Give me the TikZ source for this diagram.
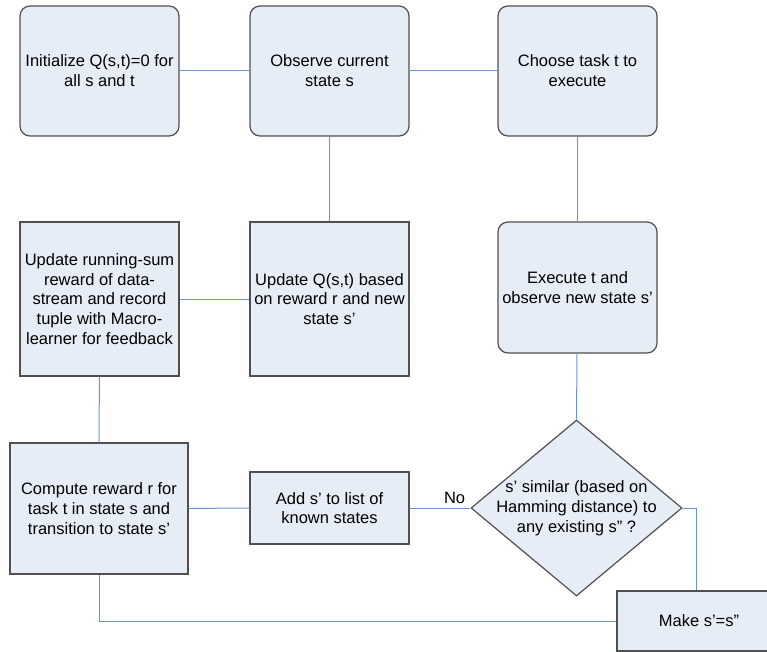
\documentclass[tikz,border=0pt]{standalone}
\usepackage{fontspec}
\setmainfont{Liberation Sans}
\usepackage{tikz}
\usetikzlibrary{shapes.geometric}
\usepackage{xcolor}
\definecolor{boxfill}{RGB}{231,237,246}
\definecolor{boxline}{RGB}{80,80,80}
\definecolor{linkline}{RGB}{105,147,215}

\begin{document}
\begin{tikzpicture}[x=1pt,y=-1pt,
	every node/.style={font=\fontsize{16.5}{19.8}\selectfont,align=center},
	stepround/.style={rectangle,rounded corners=10pt,draw=boxline,line width=1.2pt,fill=boxfill,inner sep=1pt},
	stepsquare/.style={rectangle,draw=boxline,line width=1.2pt,fill=boxfill,inner sep=1pt},
	decision/.style={diamond,draw=boxline,line width=1.2pt,fill=boxfill,inner sep=0pt,minimum width=211pt,minimum height=176pt},
	link/.style={draw=linkline,line width=1pt}]
	
	\useasboundingbox (0,0) rectangle (767,652);
	\clip (0,0) rectangle (767,652);

	\node[stepround,minimum width=159pt,minimum height=130pt] (init) at (99.5,71) {Initialize Q(s,t)=0 for\\all s and t};
	\node[stepround,minimum width=159pt,minimum height=130pt] (observe) at (329.5,71) {Observe current\\state s};
	\node[stepround,minimum width=159pt,minimum height=130pt] (choose) at (577.5,71) {Choose task t to\\execute};
	\node[stepsquare,minimum width=159pt,minimum height=154pt] (runsum) at (99.5,299) {Update running-sum\\reward of data-\\stream and record\\tuple with Macro-\\learner for feedback};
	\node[stepsquare,minimum width=159pt,minimum height=154pt] (updateq) at (329.5,299) {Update Q(s,t) based\\on reward r and new\\state s’};
	\node[stepround,minimum width=159pt,minimum height=131pt] (execute) at (577.5,287.5) {Execute t and\\observe new state s’};
	\node[stepsquare,minimum width=178pt,minimum height=131pt] (reward) at (99,508.5) {Compute reward r for\\task t in state s and\\transition to state s’};
	\node[stepsquare,minimum width=159pt,minimum height=72pt] (addknown) at (329.5,508) {Add s’ to list of\\known states};
	\node[decision] (similar) at (576.5,508) {};
	\node (similartext) at (similar.center) {s’ similar (based on\\Hamming distance) to\\any existing s” ?};
	\node[stepsquare,minimum width=164pt,minimum height=60pt] (makesame) at (699,621) {Make s’=s”};
	\coordinate (makein) at ([xshift=-3pt]makesame.north);

	\draw[link] (init) -- (observe);
	\draw[link] (observe) -- (choose);
	\draw[link] (observe) -- (updateq);
	\draw[link] (choose) -- (execute);
	\draw[link] (updateq) -- (runsum);
	\draw[link] (runsum) -- (reward);
	\draw[link] (reward) -- (addknown);
	\draw[link] (addknown) -- node[above=1pt,pos=0.74] (nolabel) {No} (similar.west);
	\draw[link] (execute) -- (similar.north);
	\draw[link] (similar.east) -| (makein);
	\draw[link] (reward.south) |- (makesame.west);

\end{tikzpicture}
\end{document}
